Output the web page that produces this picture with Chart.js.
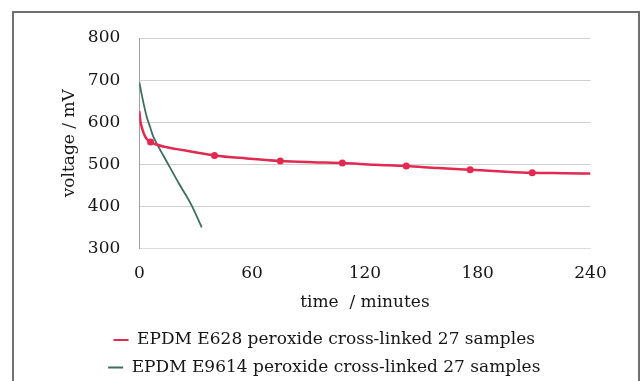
<!DOCTYPE html>
<html>
<head>
<meta charset="utf-8">
<script src="https://cdn.jsdelivr.net/npm/chart.js@4.4.1/dist/chart.umd.min.js"></script>
<style>
  html, body { margin: 0; padding: 0; background: #fff; overflow: hidden; }
  #wrap { position: relative; width: 644px; height: 381px; overflow: hidden; }
  #chart { position: absolute; left: 0; top: 0; }
  #frame { position: absolute; left: 12px; top: 11px; width: 624px; height: 400px; border: 2px solid #707070; pointer-events: none; }
</style>
</head>
<body>
<div id="wrap">
  <canvas id="chart" width="644" height="386"></canvas>
  <div id="frame"></div>
</div>
<script>
// values
const seriesNames = ['EPDM E628 peroxide cross-linked 27 samples', 'EPDM E9614 peroxide cross-linked 27 samples'];

const e628Time = [0, 0.5, 1.2, 2, 3, 4.2, 6, 9, 14, 20, 28, 40, 57, 75, 92, 108, 125, 142, 159, 176, 193, 209, 226, 240];
const e628Volt = [626, 605, 590, 578, 567, 559, 553, 547, 541, 536, 530, 521, 514, 508, 505, 503, 499, 496, 491, 487, 483, 480, 479, 478];
const e628Marked = [6, 40, 75, 108, 142, 176, 209];

const e9614Time = [0, 1, 2.5, 4, 5.7, 7.5, 9.8, 15, 21, 27.9, 33.2];
const e9614Volt = [695, 672, 640, 612, 589, 565, 545, 503, 455, 402, 350];

const xTicks = [0, 60, 120, 180, 240];
const yTicks = [300, 400, 500, 600, 700, 800];

const textColor = '#161616';
const font = { family: "'DejaVu Serif', serif", size: 17 };

function toPoints(times, volts) {
    return times.map((t, i) => ({ x: t, y: volts[i] }));
}

new Chart(document.getElementById('chart'), {
    type: 'line',
    data: {
        datasets: [{
            label: seriesNames[0],
            data: toPoints(e628Time, e628Volt),
            borderColor: '#e2294f',
            backgroundColor: '#e2294f',
            borderWidth: 2.5,
            pointRadius: ctx => (ctx.raw && e628Marked.includes(ctx.raw.x)) ? 3.5 : 0,
            pointBorderWidth: 0,
            cubicInterpolationMode: 'monotone'
        }, {
            label: seriesNames[1],
            data: toPoints(e9614Time, e9614Volt),
            borderColor: '#3f6e60',
            backgroundColor: '#3f6e60',
            borderWidth: 1.8,
            pointRadius: 0,
            cubicInterpolationMode: 'monotone'
        }]
    },
    options: {
        responsive: false,
        animation: false,
        layout: { padding: { left: 58, right: 53.5, top: 38, bottom: 0 } },
        plugins: {
            tooltip: { enabled: false },
            legend: {
                position: 'bottom',
                align: 'center',
                labels: {
                    boxWidth: 15,
                    boxHeight: 2,
                    padding: 10.5,
                    color: textColor,
                    font: font,
                    generateLabels: chart => Chart.defaults.plugins.legend.labels.generateLabels(chart)
                        .map(item => Object.assign(item, { lineWidth: 0 }))
                }
            }
        },
        scales: {
            x: {
                type: 'linear',
                min: 0,
                max: 240,
                afterBuildTicks: scale => { scale.ticks = xTicks.map(v => ({ value: v })); },
                afterFit: scale => { scale.height = 72.5; },
                grid: { display: false, drawTicks: false },
                border: { color: '#dcdcdc', width: 1 },
                ticks: { padding: 15, color: textColor, font: font, maxRotation: 0 },
                title: { display: true, text: 'time  / minutes', color: textColor, font: font, padding: { top: 0, bottom: 8.7 } }
            },
            y: {
                min: 300,
                max: 800,
                afterBuildTicks: scale => { scale.ticks = yTicks.map(v => ({ value: v })); },
                afterFit: scale => { scale.width = 81.3; },
                grid: {
                    color: ctx => (ctx.tick && ctx.tick.value === 300) ? 'rgba(0,0,0,0)' : '#cfcfcf',
                    drawTicks: false,
                    lineWidth: 1
                },
                border: { color: '#a0a0a0', width: 1 },
                ticks: { padding: 19, color: textColor, font: font },
                title: { display: true, text: 'voltage / mV', color: textColor, font: font, padding: { top: 1, bottom: 0 } }
            }
        }
    }
});
</script>
</body>
</html>
